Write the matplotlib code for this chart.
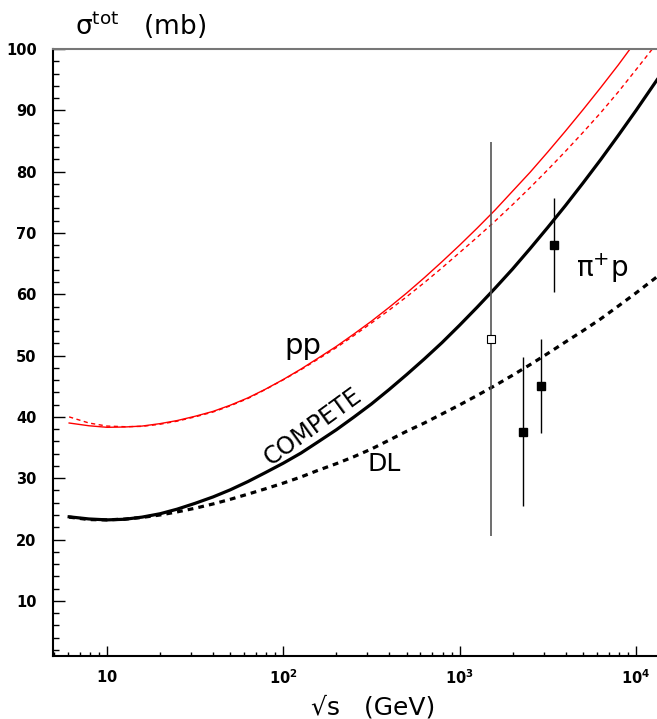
import numpy as np
import matplotlib
matplotlib.use("Agg")
import matplotlib.pyplot as plt
from matplotlib.ticker import FixedLocator, MultipleLocator, NullFormatter

sqrt_s = [6.1, 7.9, 10, 12.6, 15.8, 20, 25, 31.6, 40, 50, 63, 79, 100, 126, 158,
          200, 251, 316, 398, 501, 631, 794, 1000, 1259, 1585, 1995, 2512, 3162,
          3981, 5012, 6310, 7943, 10000, 13200]

pp_compete = [39.0, 38.55, 38.3, 38.35, 38.5, 38.9, 39.4, 40.1, 40.9, 41.9, 43.1,
              44.5, 46.1, 47.8, 49.6, 51.5, 53.5, 55.6, 57.85, 60.2, 62.7, 65.3,
              68.0, 70.8, 73.7, 76.8, 79.9, 83.2, 86.6, 90.1, 93.7, 97.4, 101.3,
              106.0]
pp_dl = [40.0, 39.0, 38.5, 38.4, 38.45, 38.8, 39.3, 40.0, 40.8, 41.8, 43.0,
         44.45, 46.05, 47.7, 49.45, 51.3, 53.25, 55.3, 57.4, 59.6, 61.9, 64.3,
         66.8, 69.3, 71.9, 74.6, 77.4, 80.3, 83.3, 86.4, 89.6, 93.0, 96.6, 101.0]
pip_compete = [23.7, 23.35, 23.2, 23.3, 23.65, 24.2, 24.95, 25.9, 26.95, 28.1,
               29.45, 30.9, 32.45, 34.1, 35.95, 37.9, 39.95, 42.1, 44.45, 46.9,
               49.45, 52.1, 54.95, 57.9, 60.95, 64.1, 67.45, 70.9, 74.45, 78.15,
               81.95, 85.9, 89.95, 95.0]
pip_dl = [23.65, 23.25, 23.2, 23.33, 23.6, 24.0, 24.5, 25.1, 25.8, 26.55, 27.4,
          28.26, 29.2, 30.2, 31.3, 32.37, 33.5, 34.76, 36.2, 37.66, 39.0, 40.47,
          41.95, 43.5, 45.1, 46.78, 48.52, 50.34, 52.21, 54.05, 55.98, 58.07,
          60.2, 62.87]

# pi+ p "data" points
open_x, open_y, open_err = [1500], [52.7], [32.2]
fill_x = [2280, 2905, 3430]
fill_y = [37.6, 45.0, 68.0]
fill_err = [12.2, 7.7, 7.7]

fig = plt.figure(figsize=(6.57, 7.19), dpi=100)
ax = fig.add_axes([53.3 / 657, 63 / 719, 1 - 53.3 / 657, 607 / 719])

ax.plot(sqrt_s, pp_compete, color='red', lw=1.0)
ax.plot(sqrt_s, pp_dl, color='red', lw=1.0, ls=(0, (3, 2.5)))
ax.plot(sqrt_s, pip_compete, color='black', lw=2.3)
ax.plot(sqrt_s, pip_dl, color='black', lw=2.3, ls=(0, (1.8, 1.6)))

ax.errorbar(open_x, open_y, yerr=open_err, fmt='s', ms=5.5, mfc='white',
            mec='black', mew=0.8, ecolor='#555555', elinewidth=1.2, capsize=0)
ax.errorbar(fill_x, fill_y, yerr=fill_err, fmt='s', ms=5.5, color='black',
            ecolor='black', elinewidth=1.0, capsize=0)

ax.set_xscale('log')
ax.set_xlim(4.96, 13170)
ax.set_ylim(1, 100)

ax.xaxis.set_major_locator(FixedLocator([10, 100, 1000, 10000]))
ax.xaxis.set_minor_locator(FixedLocator(
    [m * 10.0 ** e for e in range(0, 5) for m in range(2, 10)]))
ax.xaxis.set_minor_formatter(NullFormatter())
ax.set_xticklabels([r'$\mathbf{10}$', r'$\mathbf{10^{2}}$',
                    r'$\mathbf{10^{3}}$', r'$\mathbf{10^{4}}$'])
ax.yaxis.set_major_locator(FixedLocator(range(10, 101, 10)))
ax.yaxis.set_minor_locator(MultipleLocator(2))

ax.tick_params(axis='both', which='both', direction='in', labelsize=10.5)
ax.tick_params(axis='y', which='major', length=8.4, width=1.0, pad=12)
ax.tick_params(axis='y', which='minor', length=4.3, width=1.0)
ax.tick_params(axis='x', which='major', length=7.2, width=1.0, pad=9)
ax.tick_params(axis='x', which='minor', length=3.0, width=1.0)
for lab in ax.get_yticklabels():
    lab.set_fontweight('bold')

ax.spines['right'].set_visible(False)
ax.spines['top'].set_color('#777777')
ax.spines['top'].set_linewidth(1.5)
ax.spines['left'].set_linewidth(1.5)
ax.spines['bottom'].set_linewidth(1.5)

# curve labels
ax.text(129, 51.6, 'pp', fontsize=21, ha='center', va='center')
ax.text(147, 38.4, 'COMPETE', fontsize=17, ha='center', va='center',
        rotation=36, rotation_mode='anchor')
ax.text(372, 32.3, 'DL', fontsize=18, ha='center', va='center')
ax.text(6430, 64.3, r'$\mathrm{\pi}^{+}$p', fontsize=20, ha='center', va='center')

fig.text(75 / 657, 1 - 25 / 719, r'$\mathrm{\sigma}^{\rm tot}$   (mb)', fontsize=19,
         ha='left', va='center')
fig.text(373 / 657, 1 - 707 / 719, '√s   (GeV)', fontsize=18,
         ha='center', va='center')

fig.savefig('out.png', dpi=100)
